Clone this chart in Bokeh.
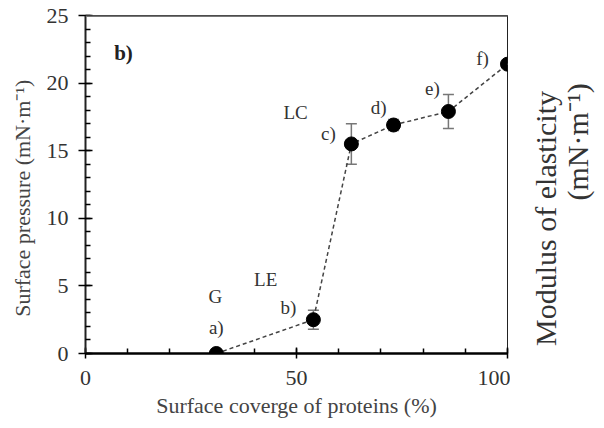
import math
from bokeh.plotting import figure
from bokeh.layouts import row
from bokeh.models import (ColumnDataSource, Whisker, TeeHead, Label, LinearAxis,
                          SingleIntervalTicker, Span, Range1d)
from bokeh.embed import file_html
from bokeh.resources import INLINE

# ---- data ----
coverage = [31, 54, 63, 73, 86, 100]
pressure = [0.0, 2.5, 15.5, 16.9, 17.9, 21.4]
error = [0.0, 0.7, 1.5, 0.4, 1.25, 0.0]
point_labels = ["a)", "b)", "c)", "d)", "e)", "f)"]
phase_names = ["G", "LE", "LC"]
phase_x = [30.8, 42.7, 49.8]
phase_y = [4.2, 5.5, 17.8]

FONT = "Liberation Serif"
NB = "\u00a0"

src = ColumnDataSource(dict(
    x=coverage, y=pressure,
    lo=[v - e for v, e in zip(pressure, error)],
    hi=[v + e for v, e in zip(pressure, error)],
))

p = figure(width=510, height=428, output_backend="svg", toolbar_location=None,
           x_range=Range1d(0, 100), y_range=Range1d(0, 25),
           x_axis_type=None, y_axis_type=None,
           min_border_left=85, min_border_right=3, min_border_top=15, min_border_bottom=75)
p.background_fill_color = "white"
p.border_fill_color = "white"
p.grid.visible = False
p.outline_line_color = "#222222"
p.outline_line_width = 1

# axes
xax = LinearAxis(ticker=SingleIntervalTicker(interval=50, num_minor_ticks=5))
xax.axis_label = "Surface coverge of proteins (%)"
xax.axis_line_width = 2.5
xax.axis_line_color = "black"
xax.major_tick_in = 6
xax.major_tick_out = 5
xax.minor_tick_in = 5
xax.minor_tick_out = 0
xax.major_tick_line_width = 1.5
xax.minor_tick_line_width = 1.5
xax.major_label_text_font = FONT
xax.major_label_text_font_size = "22px"
xax.major_label_text_color = "#333333"
xax.major_label_standoff = 12
xax.axis_label_text_font = FONT
xax.axis_label_text_font_size = "22px"
xax.axis_label_text_font_style = "normal"
xax.axis_label_text_color = "#444444"
xax.axis_label_standoff = 5
p.add_layout(xax, "below")

yax = LinearAxis(ticker=SingleIntervalTicker(interval=5, num_minor_ticks=5))
yax.axis_label = "Surface pressure (mN·m⁻¹)" + NB * 5
yax.axis_line_width = 2
yax.axis_line_color = "#222222"
yax.major_tick_in = 7
yax.major_tick_out = 7
yax.minor_tick_in = 5
yax.minor_tick_out = 0
yax.major_tick_line_width = 1.5
yax.minor_tick_line_width = 1.5
yax.major_label_text_font = FONT
yax.major_label_text_font_size = "22px"
yax.major_label_text_color = "#333333"
yax.major_label_standoff = 10
yax.axis_label_text_font = FONT
yax.axis_label_text_font_size = "22px"
yax.axis_label_text_font_style = "normal"
yax.axis_label_text_color = "#444444"
yax.axis_label_standoff = 9
p.add_layout(yax, "left")

p.add_layout(Span(location=25, dimension="width", line_color="#777777", line_width=3))

# data
p.line("x", "y", source=src, line_color="#444444", line_width=1.5, line_dash="4 3")
w = Whisker(source=src, base="x", upper="hi", lower="lo", dimension="height",
            line_color="#777777", line_width=1.5,
            upper_head=TeeHead(size=11, line_color="#777777", line_width=1.5),
            lower_head=TeeHead(size=11, line_color="#777777", line_width=1.5))
p.add_layout(w)
p.scatter("x", "y", source=src, size=14, color="black")

# point labels
offsets = [(0, 26), (-25, 12), (-23, 10), (-15, 18), (-16, 23), (-25, 6)]
for xv, yv, t, (dx, dy) in zip(coverage, pressure, point_labels, offsets):
    p.add_layout(Label(x=xv, y=yv, x_offset=dx, y_offset=dy, text=t,
                       text_font=FONT, text_font_size="19px", text_color="#333333",
                       text_align="center", text_baseline="middle"))

for xv, yv, t in zip(phase_x, phase_y, phase_names):
    p.add_layout(Label(x=xv, y=yv, text=t, text_font=FONT, text_font_size="19px",
                       text_color="#333333", text_align="center", text_baseline="middle"))

p.add_layout(Label(x=9.0, y=22.2, text="b)", text_font=FONT, text_font_size="21px",
                   text_font_style="bold", text_color="#222222",
                   text_align="center", text_baseline="middle"))

# right-side panel holding the secondary (two-line) label
p2 = figure(width=94, height=428, output_backend="svg", toolbar_location=None,
            x_range=Range1d(0, 94), y_range=Range1d(0, 428),
            x_axis_type=None, y_axis_type=None, min_border=0)
p2.grid.visible = False
p2.outline_line_color = None
p2.background_fill_color = "white"
p2.border_fill_color = "white"
p2.add_layout(Label(x=35, y=171, text="Modulus of elasticity", angle=math.pi / 2,
                    text_font=FONT, text_font_size="30px", text_color="#333333",
                    text_align="center", text_baseline="middle"))
p2.add_layout(Label(x=67, y=268, text="(mN·m⁻¹)", angle=math.pi / 2,
                    text_font=FONT, text_font_size="30px", text_color="#333333",
                    text_align="center", text_baseline="middle"))

layout = row(p, p2, spacing=0)
open("out.html", "w").write(file_html(layout, INLINE))
